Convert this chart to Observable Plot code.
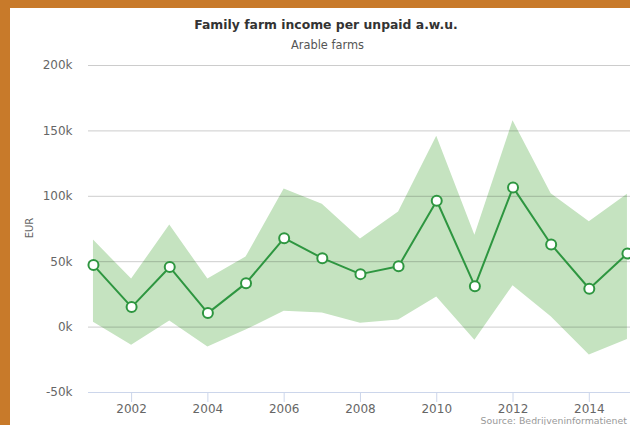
<!DOCTYPE html>
<html>
<head>
<meta charset="utf-8">
<script src="https://cdn.jsdelivr.net/npm/d3@7"></script>
<script src="https://cdn.jsdelivr.net/npm/@observablehq/plot@0.6"></script>
<style>
  html, body { margin: 0; padding: 0; background: #c87a2a; }
  #wrap { position: relative; width: 630px; height: 425px; background: #c87a2a; overflow: hidden; font-family: "DejaVu Sans", sans-serif; }
  #inner { position: absolute; left: 10px; top: 8px; width: 620px; height: 417px; background: #fff; }
  #title { position: absolute; left: 0; top: 17px; width: 652px; text-align: center; font-weight: bold; font-size: 12.4px; line-height: 15px; color: #333; }
  #subtitle { position: absolute; left: 0; top: 39px; width: 655px; text-align: center; font-size: 11.4px; line-height: 13px; color: #555; }
  #ylabel { position: absolute; left: 29px; top: 228px; font-size: 10px; color: #666; transform: translate(-50%, -50%) rotate(-90deg); }
  #source { position: absolute; right: 3px; top: 416px; font-size: 9.4px; line-height: 10px; color: #999; }
  #chart { position: absolute; left: 10px; top: 55px; }
</style>
</head>
<body>
<div id="wrap">
  <div id="inner"></div>
  <div id="title">Family farm income per unpaid a.w.u.</div>
  <div id="subtitle">Arable farms</div>
  <div id="chart"></div>
  <div id="ylabel">EUR</div>
  <div id="source">Source: Bedrijveninformatienet</div>
</div>
<script>
const years = [2001, 2002, 2003, 2004, 2005, 2006, 2007, 2008, 2009, 2010, 2011, 2012, 2013, 2014, 2015];
const mean  = [47400, 15300, 45900, 10700, 33600, 68000, 52700, 40500, 46600, 96600, 31300, 106800, 63200, 29300, 56300];
const upper = [66500, 36700, 78000, 36700, 53500, 105500, 94000, 67300, 88000, 146000, 70300, 157700, 102000, 80500, 101500];
const lower = [3800, -13800, 4600, -15300, -2300, 12200, 10700, 3000, 5400, 23000, -10000, 31600, 7900, -21400, -9400];
const yTicks = [-50000, 0, 50000, 100000, 150000, 200000];
const xTicks = [2002, 2004, 2006, 2008, 2010, 2012, 2014];

const data = years.map((y, i) => ({year: y, mean: mean[i], high: upper[i], low: lower[i]}));
const green = "#2e9640";

const chart = Plot.plot({
  width: 620,
  height: 370,
  marginLeft: 78,
  marginRight: 0,
  marginTop: 10,
  marginBottom: 33,
  style: {fontFamily: "DejaVu Sans, sans-serif", background: "transparent", overflow: "visible"},
  x: {domain: [2000.87, 2015.08]},
  y: {domain: [-50000, 200000]},
  marks: [
    Plot.areaY(data, {x: "year", y1: "low", y2: "high", fill: "#c5e3c0"}),
    Plot.ruleY(yTicks.filter(d => d > -50000), {stroke: "#000", strokeOpacity: 0.2}),
    Plot.ruleY([yTicks[0]], {stroke: "#ccd6eb"}),
    Plot.axisY({ticks: yTicks, tickSize: 0, tickPadding: 16, fontSize: 12, fill: "#666",
      tickFormat: d => (d / 1000) + "k", label: null}),
    Plot.axisX({ticks: xTicks, tickSize: 10, tickPadding: 2, stroke: "#ccd6eb", fill: "#666", fontSize: 12,
      tickFormat: d => String(d), label: null}),
    Plot.lineY(data, {x: "year", y: "mean", stroke: green, strokeWidth: 2}),
    Plot.dot(data, {x: "year", y: "mean", r: 5, fill: "#fff", stroke: green, strokeWidth: 2})
  ]
});
document.getElementById("chart").appendChild(chart);
</script>
</body>
</html>
